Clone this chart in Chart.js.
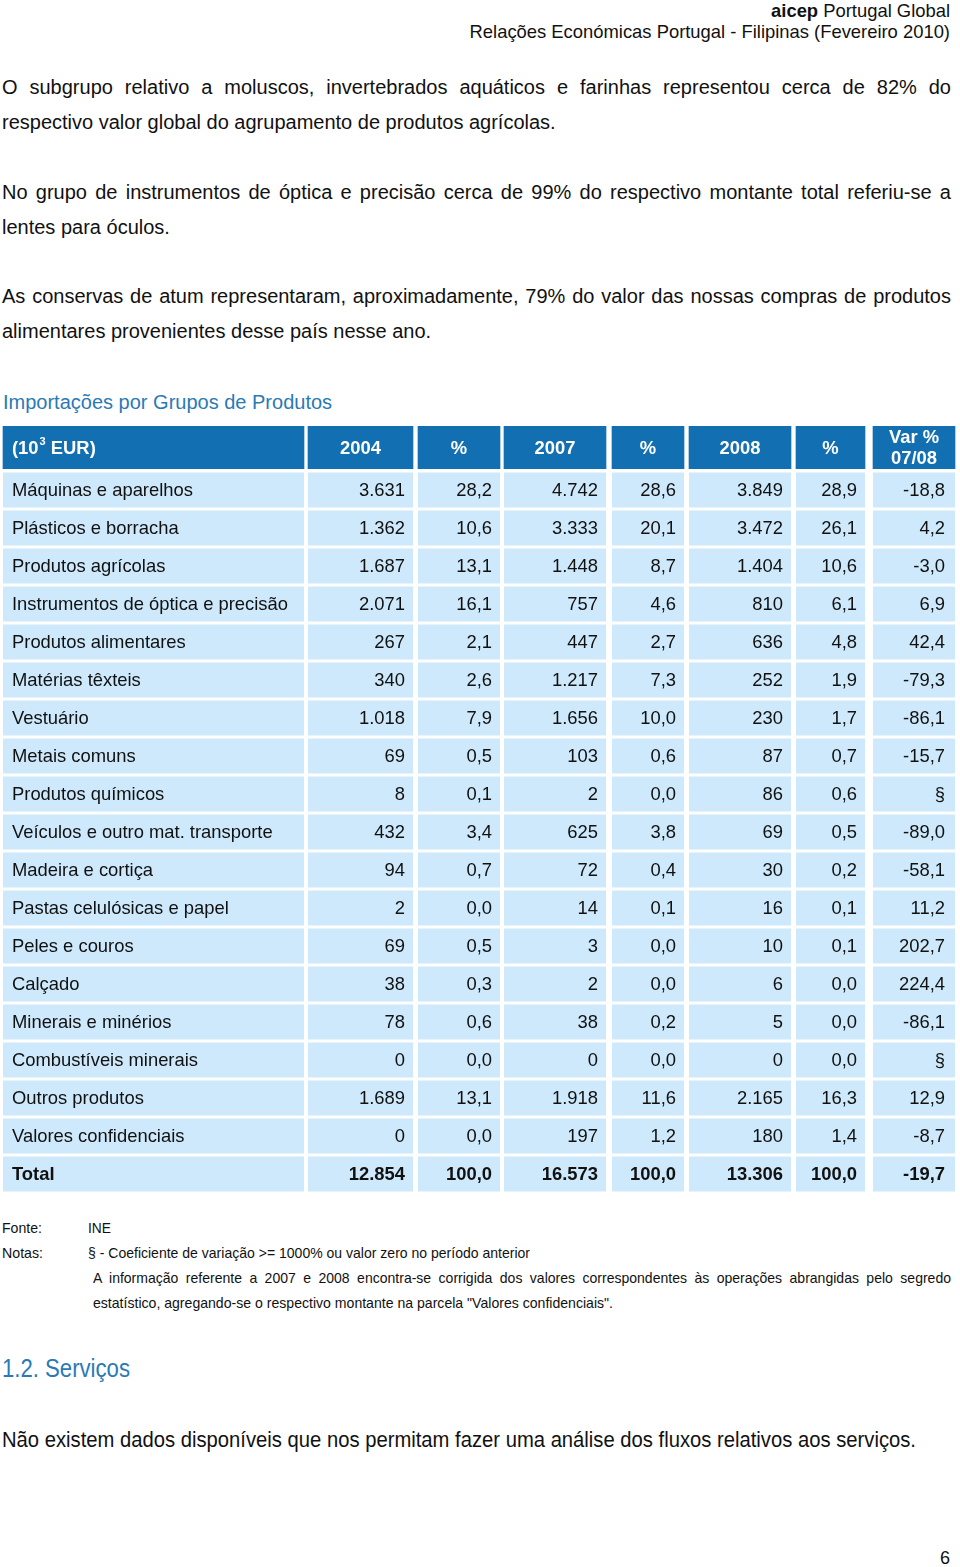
<!DOCTYPE html>
<html>
<head>
<meta charset="utf-8">
<script src="https://cdn.jsdelivr.net/npm/chart.js@4.4.0/dist/chart.umd.min.js"></script>
<style>
  body { margin: 0; width: 960px; height: 1567px; background: #fff; position: relative; font-family: "Liberation Sans", Arial, sans-serif; color: #111; overflow: hidden; }
  .abs { position: absolute; white-space: nowrap; }
  .line { position: absolute; left: 2px; width: 949px; font-size: 20px; line-height: 35px; white-space: nowrap; }
  .just { text-align: justify; text-align-last: justify; white-space: normal; }
  .fit { transform-origin: 0 50%; }
  .note { font-size: 15px; line-height: 18px; }
  canvas { position: absolute; left: 0; }
</style>
</head>
<body>
<div class="abs" style="right:10px; top:0px; font-size:18.4px; line-height:21px; text-align:right;"><b>aicep</b> Portugal Global<br>Relações Económicas Portugal - Filipinas (Fevereiro 2010)</div>

<div class="line just" style="top:70px;">O subgrupo relativo a moluscos, invertebrados aquáticos e farinhas representou cerca de 82% do</div>
<div class="line" style="top:105px;">respectivo valor global do agrupamento de produtos agrícolas.</div>
<div class="line just" style="top:175px;">No grupo de instrumentos de óptica e precisão cerca de 99% do respectivo montante total referiu-se a</div>
<div class="line" style="top:210px;">lentes para óculos.</div>
<div class="line just" style="top:279px;">As conservas de atum representaram, aproximadamente, 79% do valor das nossas compras de produtos</div>
<div class="line" style="top:314px;">alimentares provenientes desse país nesse ano.</div>

<div class="abs" style="left:3px; top:389px; font-size:20px; line-height:26px; color:#2a7ab5;">Importações por Grupos de Produtos</div>

<canvas id="headChart" width="960" height="43" style="top:426px;"></canvas>
<canvas id="bodyChart" width="960" height="722" style="top:471px;"></canvas>

<div class="abs note fit" data-w="40" style="left:2px; top:1219px;">Fonte:</div>
<div class="abs note fit" data-w="23" style="left:88px; top:1219px;">INE</div>
<div class="abs note fit" data-w="41" style="left:2px; top:1244px;">Notas:</div>
<div class="abs note fit" id="signNote" data-w="442" style="left:88px; top:1244px;">§ - Coeficiente de variação &gt;= 1000% ou valor zero no período anterior</div>
<div class="abs note fit just" id="justNote" style="left:93px; width:918px; top:1269px;">A informação referente a 2007 e 2008 encontra-se corrigida dos valores correspondentes às operações abrangidas pelo segredo</div>
<div class="abs note fit" data-w="520" style="left:93px; top:1294px;">estatístico, agregando-se o respectivo montante na parcela "Valores confidenciais".</div>

<div class="abs fit" data-w="128" style="left:2px; top:1353px; font-size:25px; line-height:30px; color:#2a7ab5;">1.2. Serviços</div>
<div class="abs fit" data-w="914" style="left:2px; top:1426px; font-size:22px; line-height:28px;">Não existem dados disponíveis que nos permitam fazer uma análise dos fluxos relativos aos serviços.</div>

<div class="abs" style="left:940px; top:1547px; font-size:18px; line-height:22px;">6</div>

<script>
// table data
const categories = ['Máquinas e aparelhos', 'Plásticos e borracha', 'Produtos agrícolas', 'Instrumentos de óptica e precisão',
  'Produtos alimentares', 'Matérias têxteis', 'Vestuário', 'Metais comuns', 'Produtos químicos',
  'Veículos e outro mat. transporte', 'Madeira e cortiça', 'Pastas celulósicas e papel', 'Peles e couros',
  'Calçado', 'Minerais e minérios', 'Combustíveis minerais', 'Outros produtos', 'Valores confidenciais', 'Total'];
const val2004 = [3631, 1362, 1687, 2071, 267, 340, 1018, 69, 8, 432, 94, 2, 69, 38, 78, 0, 1689, 0, 12854];
const pct2004 = [28.2, 10.6, 13.1, 16.1, 2.1, 2.6, 7.9, 0.5, 0.1, 3.4, 0.7, 0.0, 0.5, 0.3, 0.6, 0.0, 13.1, 0.0, 100.0];
const val2007 = [4742, 3333, 1448, 757, 447, 1217, 1656, 103, 2, 625, 72, 14, 3, 2, 38, 0, 1918, 197, 16573];
const pct2007 = [28.6, 20.1, 8.7, 4.6, 2.7, 7.3, 10.0, 0.6, 0.0, 3.8, 0.4, 0.1, 0.0, 0.0, 0.2, 0.0, 11.6, 1.2, 100.0];
const val2008 = [3849, 3472, 1404, 810, 636, 252, 230, 87, 86, 69, 30, 16, 10, 6, 5, 0, 2165, 180, 13306];
const pct2008 = [28.9, 26.1, 10.6, 6.1, 4.8, 1.9, 1.7, 0.7, 0.6, 0.5, 0.2, 0.1, 0.1, 0.0, 0.0, 0.0, 16.3, 1.4, 100.0];
const varPct = [-18.8, 4.2, -3.0, 6.9, 42.4, -79.3, -86.1, -15.7, null, -89.0, -58.1, 11.2, 202.7, 224.4, -86.1, null, 12.9, -8.7, -19.7];
const headers = ['(10³ EUR)', '2004', '%', '2007', '%', '2008', '%', 'Var %\n07/08'];

// layout (pixel edges of each column on the x scale)
const colEdges = [[3, 304], [308, 413], [418, 500], [504, 606], [612, 684], [689, 791], [796, 865], [873, 955]];
const headColor = '#1270b2';
const cellColor = '#cde9fb';
const cellFont = '18.4px "Liberation Sans", Arial, sans-serif';

// condensed text: squeeze to the widths seen on the page
document.querySelectorAll('.fit[data-w]').forEach(el => {
  const s = +el.dataset.w / el.getBoundingClientRect().width;
  el.style.transform = 'scaleX(' + s + ')';
  el.dataset.s = s;
});
const noteScale = +document.getElementById('signNote').dataset.s;
const justNote = document.getElementById('justNote');
justNote.style.width = (858 / noteScale) + 'px';
justNote.style.transform = 'scaleX(' + noteScale + ')';

const fmtInt = v => String(v).replace(/\B(?=(\d{3})+(?!\d))/g, '.');
const fmtDec = v => v === null ? '§' : v.toFixed(1).replace('.', ',');

const columns = [
  categories,
  val2004.map(fmtInt), pct2004.map(fmtDec),
  val2007.map(fmtInt), pct2007.map(fmtDec),
  val2008.map(fmtInt), pct2008.map(fmtDec),
  varPct.map(fmtDec)
];

function cellBox(bar) {
  const p = bar.getProps(['x', 'base', 'y'], true);
  return { left: Math.min(p.x, p.base), right: Math.max(p.x, p.base), y: p.y };
}

const bodyText = {
  id: 'bodyText',
  afterDatasetsDraw(chart) {
    const ctx = chart.ctx;
    ctx.save();
    ctx.fillStyle = '#111';
    ctx.textBaseline = 'middle';
    chart.data.datasets.forEach((ds, d) => {
      chart.getDatasetMeta(d).data.forEach((bar, i) => {
        const b = cellBox(bar);
        const isTotal = i === categories.length - 1;
        ctx.font = (isTotal ? 'bold ' : '') + cellFont;
        const txt = columns[d][i];
        if (d === 0) {
          ctx.textAlign = 'left';
          ctx.fillText(txt, b.left + 9, b.y + 1);
        } else {
          ctx.textAlign = 'right';
          ctx.fillText(txt, b.right - (d === 7 ? 10 : 8), b.y + 1);
        }
      });
    });
    ctx.restore();
  }
};

const headText = {
  id: 'headText',
  afterDatasetsDraw(chart) {
    const ctx = chart.ctx;
    ctx.save();
    ctx.fillStyle = '#fff';
    ctx.textBaseline = 'middle';
    const font = 'bold ' + cellFont;
    chart.data.datasets.forEach((ds, d) => {
      const b = cellBox(chart.getDatasetMeta(d).data[0]);
      ctx.font = font;
      if (d === 0) {
        ctx.textAlign = 'left';
        let x = b.left + 9;
        ctx.fillText('(10', x, b.y + 1);
        x += ctx.measureText('(10').width;
        ctx.font = 'bold 11px "Liberation Sans", Arial, sans-serif';
        ctx.fillText('3', x + 1, b.y - 6);
        x += ctx.measureText('3').width + 1;
        ctx.font = font;
        ctx.fillText(' EUR)', x, b.y + 1);
      } else {
        ctx.textAlign = 'center';
        const cx = (b.left + b.right) / 2;
        const lines = headers[d].split('\n');
        if (lines.length === 1) {
          ctx.fillText(lines[0], cx, b.y + 1);
        } else {
          ctx.fillText(lines[0], cx, b.y - 10);
          ctx.fillText(lines[1], cx, b.y + 11);
        }
      }
    });
    ctx.restore();
  }
};

const baseOptions = {
  indexAxis: 'y',
  responsive: false,
  animation: false,
  events: [],
  layout: { padding: 0 },
  plugins: { legend: { display: false }, tooltip: { enabled: false } },
  scales: {
    x: { type: 'linear', min: 0, max: 960, display: false },
    y: { type: 'category', display: false }
  }
};

new Chart(document.getElementById('headChart'), {
  type: 'bar',
  data: {
    labels: ['head'],
    datasets: colEdges.map(e => ({
      data: [e],
      backgroundColor: headColor,
      borderWidth: 0,
      grouped: false,
      barPercentage: 1,
      categoryPercentage: 1
    }))
  },
  options: baseOptions,
  plugins: [headText]
});

new Chart(document.getElementById('bodyChart'), {
  type: 'bar',
  data: {
    labels: categories,
    datasets: colEdges.map(e => ({
      data: categories.map(() => e),
      backgroundColor: cellColor,
      borderWidth: 0,
      grouped: false,
      barPercentage: 35 / 38,
      categoryPercentage: 1
    }))
  },
  options: baseOptions,
  plugins: [bodyText]
});
</script>
</body>
</html>
